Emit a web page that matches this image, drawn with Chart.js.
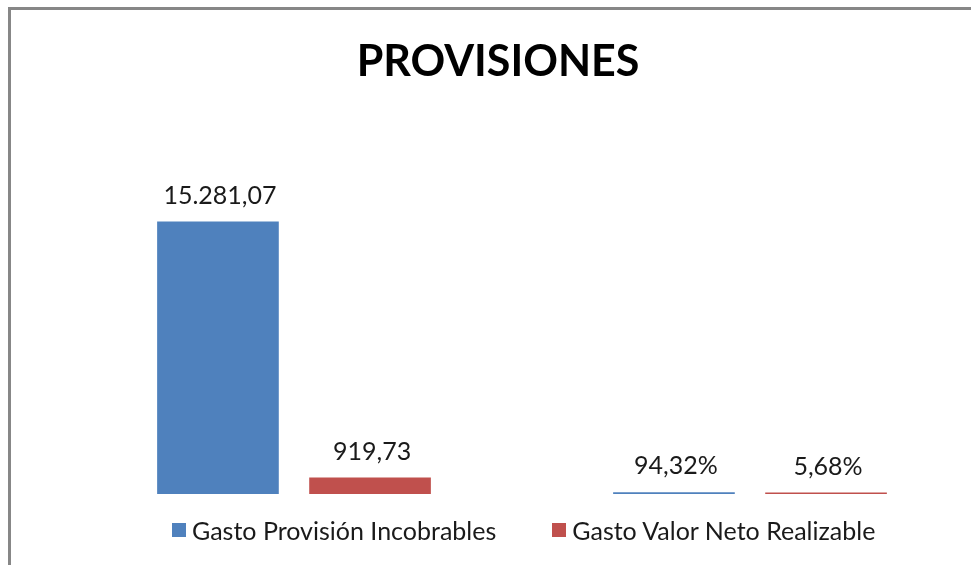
<!DOCTYPE html>
<html>
<head>
<meta charset="utf-8">
<script src="https://cdn.jsdelivr.net/npm/chart.js@4.4.1/dist/chart.umd.min.js"></script>
<style>
  html, body { margin: 0; padding: 0; background: #fff; overflow: hidden; }
  body { width: 971px; height: 565px; position: relative; font-family: Lato, "Open Sans", sans-serif; color: #000; }
  .frame { position: absolute; left: 8px; top: 7px; width: 972px; height: 560px; border-left: 3px solid #878787; border-top: 3px solid #878787; }
  .box { position: absolute; left: 0; top: 0; width: 972px; height: 555px; }
  .title { position: absolute; left: 2px; width: 970px; top: 25px; text-align: center; font-weight: bold; font-size: 43px; line-height: 50px; }
  .legend { position: absolute; left: 161px; top: 505px; display: flex; gap: 56px; font-size: 25px; line-height: 30px; color: #1a1a1a; }
  .legend span.item { display: flex; align-items: center; }
  .legend i { display: inline-block; width: 14px; height: 14px; margin-right: 6px; }
</style>
</head>
<body>
<div class="frame">
  <div class="box"><canvas id="chart"></canvas></div>
  <div class="title" id="title"></div>
  <div class="legend" id="legend"></div>
</div>
<script>
const title = "PROVISIONES";
const categories = ["Valores", "Porcentaje"];
const seriesNames = ["Gasto Provisión Incobrables", "Gasto Valor Neto Realizable"];
const seriesColors = ["#4F81BD", "#C0504D"];
const provisionIncobrables = [15281.07, 94.32];
const valorNetoRealizable = [919.73, 5.68];
const valueLabels = [
  ["15.281,07", "94,32%"],
  ["919,73", "5,68%"]
];

document.getElementById("title").textContent = title;
document.getElementById("legend").innerHTML = seriesNames
  .map((name, i) => '<span class="item"><i style="background:' + seriesColors[i] + '"></i>' + name + "</span>")
  .join("");

// draws the number above each bar
const barLabels = {
  id: "barLabels",
  afterDatasetsDraw(chart) {
    const ctx = chart.ctx;
    ctx.save();
    ctx.font = "25px Lato";
    ctx.fillStyle = "#1a1a1a";
    ctx.textAlign = "center";
    ctx.textBaseline = "middle";
    chart.data.datasets.forEach((ds, i) => {
      chart.getDatasetMeta(i).data.forEach((bar, j) => {
        ctx.fillText(valueLabels[i][j], bar.x + 2, bar.y - 26);
      });
    });
    ctx.restore();
  }
};

new Chart(document.getElementById("chart"), {
  type: "bar",
  data: {
    labels: categories,
    datasets: [
      {
        label: seriesNames[0],
        data: provisionIncobrables,
        backgroundColor: seriesColors[0],
        minBarLength: 1.5,
        barPercentage: 0.8,
        categoryPercentage: 0.667
      },
      {
        label: seriesNames[1],
        data: valorNetoRealizable,
        backgroundColor: seriesColors[1],
        minBarLength: 1.5,
        barPercentage: 0.8,
        categoryPercentage: 0.667
      }
    ]
  },
  options: {
    responsive: true,
    maintainAspectRatio: false,
    animation: false,
    layout: { padding: { left: 55, right: 5, top: 163, bottom: 71 } },
    plugins: {
      legend: { display: false },
      title: { display: false },
      tooltip: { enabled: false }
    },
    scales: {
      x: { display: false },
      y: { display: false, min: 0, max: 18000 }
    }
  },
  plugins: [barLabels]
});
</script>
</body>
</html>
